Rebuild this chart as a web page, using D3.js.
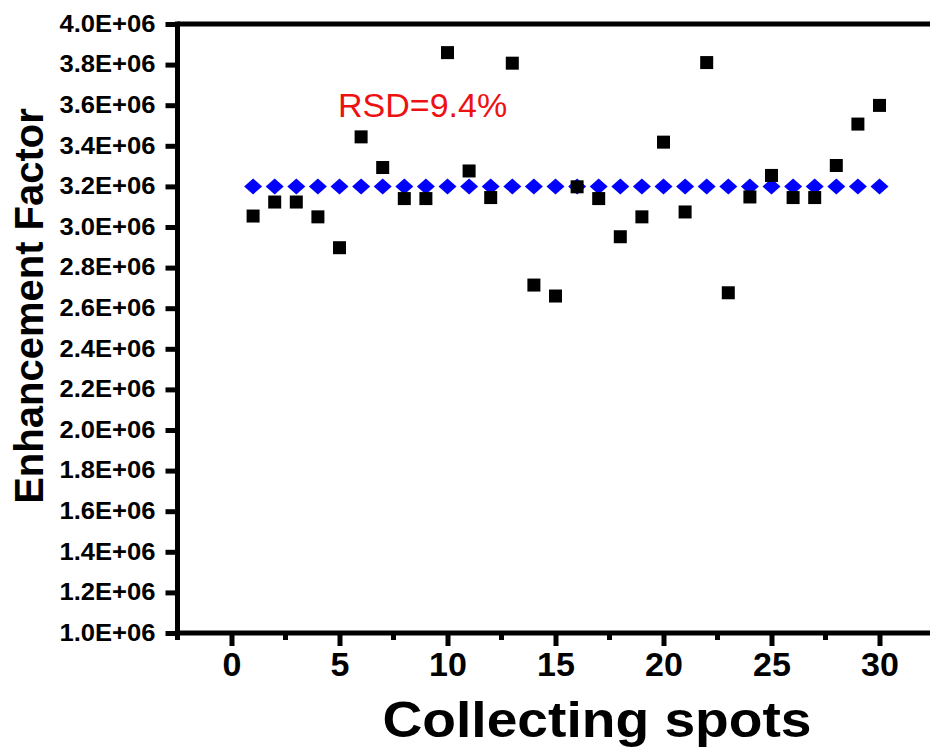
<!DOCTYPE html>
<html><head><meta charset="utf-8">
<script src="https://cdn.jsdelivr.net/npm/d3@7/dist/d3.min.js"></script>
<style>body{margin:0;background:#fff;} svg{display:block;font-family:"Liberation Sans",Arial,sans-serif;}</style>
</head><body>
<script>
const spots = d3.range(1, 31);
const enhancement = [3.054e6,3.123e6,3.123e6,3.05e6,2.898e6,3.444e6,3.293e6,3.14e6,3.14e6,3.859e6,
  3.276e6,3.145e6,3.807e6,2.714e6,2.66e6,3.198e6,3.14e6,2.952e6,3.05e6,3.418e6,
  3.074e6,3.81e6,2.676e6,3.148e6,3.254e6,3.145e6,3.145e6,3.303e6,3.507e6,3.599e6];
const meanLine = spots.map(() => 3.2e6);
const yTicks = d3.range(1.0e6, 4.0e6 + 1, 0.2e6);
const xTicks = [0, 5, 10, 15, 20, 25, 30];
const xMinor = [-2.5, 2.5, 7.5, 12.5, 17.5, 22.5, 27.5, 32.5];
const rsdLabel = "RSD=9.4%";

const W = 930, H = 754;
const svg = d3.select("body").append("svg").attr("width", W).attr("height", H);
const x = d3.scaleLinear().domain([-2.5, 32.5]).range([177.5, 933.5]);
const y = d3.scaleLinear().domain([1.0e6, 4.0e6]).range([633, 24]);

// frame
svg.append("line").attr("x1", x(-2.5)).attr("x2", x(32.5)).attr("y1", y(4e6)).attr("y2", y(4e6))
  .attr("stroke", "#000").attr("stroke-width", 5);
svg.append("line").attr("x1", x(32.5)).attr("x2", x(32.5)).attr("y1", y(4e6)).attr("y2", y(1e6))
  .attr("stroke", "#000").attr("stroke-width", 5);

// x axis
const xAxis = svg.append("g").attr("transform", `translate(0,${y(1e6)})`)
  .call(d3.axisBottom(x).tickValues(xTicks).tickSize(13).tickPadding(6).tickFormat(d3.format("d")));
xAxis.select(".domain").attr("stroke-width", 5).attr("d", `M${x(-2.5)-2.5},0H${x(32.5)}`);
xAxis.selectAll(".tick line").attr("stroke-width", 5);
xAxis.selectAll(".tick text").attr("font-size", 34).attr("font-weight", "bold").attr("fill", "#000")
  .attr("font-family", "'Liberation Sans',Arial,sans-serif");
svg.append("g").selectAll("line").data(xMinor).join("line")
  .attr("x1", d => x(d)).attr("x2", d => x(d)).attr("y1", y(1e6)).attr("y2", y(1e6) + 7)
  .attr("stroke", "#000").attr("stroke-width", 5);

// y axis
const yAxis = svg.append("g").attr("transform", `translate(${x(-2.5)},0)`)
  .call(d3.axisLeft(y).tickValues(yTicks).tickSize(12).tickPadding(10)
    .tickFormat(d => (d / 1e6).toFixed(1) + "E+06"));
yAxis.select(".domain").attr("stroke-width", 5).attr("d", `M0,${y(4e6)-2.5}V${y(1e6)+2.5}`);
yAxis.selectAll(".tick line").attr("stroke-width", 5);
yAxis.selectAll(".tick text").attr("font-size", 23).attr("font-weight", "bold").attr("fill", "#000")
  .attr("font-family", "'Liberation Sans',Arial,sans-serif")
  .attr("textLength", 96).attr("lengthAdjust", "spacingAndGlyphs");

// mean diamonds
const dw = 9, dh = 8;
svg.append("g").selectAll("path").data(spots).join("path")
  .attr("d", (d, i) => `M${x(d)},${y(meanLine[i]) - dh}L${x(d) + dw},${y(meanLine[i])}L${x(d)},${y(meanLine[i]) + dh}L${x(d) - dw},${y(meanLine[i])}Z`)
  .attr("fill", "#0000ff");

// data squares
const s = 13;
svg.append("g").selectAll("rect").data(spots).join("rect")
  .attr("x", d => x(d) - s / 2).attr("y", (d, i) => y(enhancement[i]) - s / 2)
  .attr("width", s).attr("height", s).attr("fill", "#000");

// annotation
svg.append("text").attr("x", 338).attr("y", 117).attr("font-size", 34).attr("fill", "#ee1111")
  .text(rsdLabel);

// axis titles
svg.append("text").attr("x", 597).attr("y", 737).attr("text-anchor", "middle")
  .attr("font-size", 50).attr("font-weight", "bold").attr("textLength", 429).attr("lengthAdjust", "spacingAndGlyphs")
  .text("Collecting spots");
svg.append("text").attr("transform", "translate(43,306) rotate(-90)").attr("text-anchor", "middle")
  .attr("font-size", 40).attr("font-weight", "bold")
  .text("Enhancement Factor");
</script>
</body></html>
